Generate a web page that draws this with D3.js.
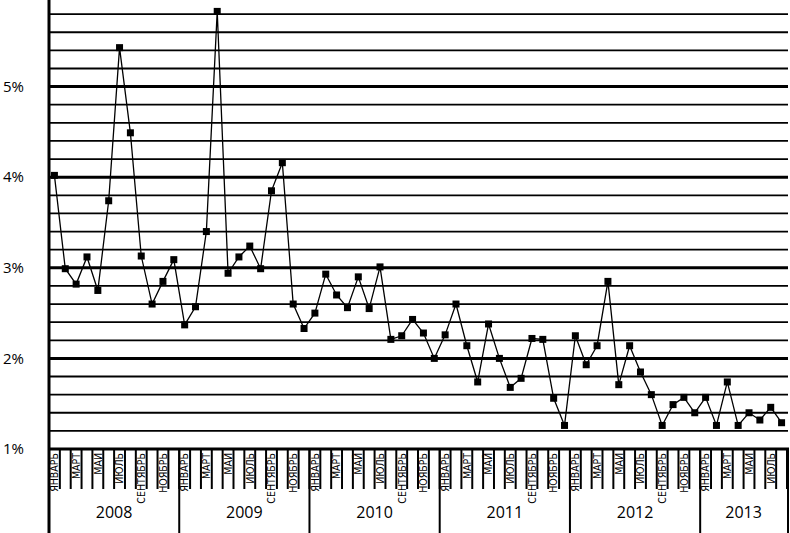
<!DOCTYPE html>
<html><head><meta charset="utf-8">
<script src="https://cdn.jsdelivr.net/npm/d3@7/dist/d3.min.js"></script>
<style>
body{margin:0;background:#fff}
svg{display:block}
</style></head>
<body><svg id="c" width="790" height="533"></svg>
<script>
const years = ["2008","2009","2010","2011","2012","2013"];
const monthLabels = ["ЯНВАРЬ","","МАРТ","","МАЙ","","ИЮЛЬ","","СЕНТЯБРЬ","","НОЯБРЬ",""];
const v2008 = [4.02, 2.99, 2.82, 3.12, 2.75, 3.74, 5.43, 4.49, 3.13, 2.60, 2.85, 3.09];
const v2009 = [2.37, 2.57, 3.40, 5.83, 2.94, 3.12, 3.24, 2.99, 3.85, 4.16, 2.60, 2.33];
const v2010 = [2.50, 2.93, 2.70, 2.56, 2.90, 2.55, 3.01, 2.21, 2.25, 2.43, 2.28, 2.00];
const v2011 = [2.26, 2.60, 2.14, 1.74, 2.38, 2.00, 1.68, 1.78, 2.22, 2.21, 1.56, 1.26];
const v2012 = [2.25, 1.93, 2.14, 2.85, 1.71, 2.14, 1.85, 1.60, 1.26, 1.49, 1.57, 1.40];
const v2013 = [1.57, 1.26, 1.74, 1.26, 1.40, 1.32, 1.46, 1.29];
const yTickValues = [1,1.2,1.4,1.6,1.8,2,2.2,2.4,2.6,2.8,3,3.2,3.4,3.6,3.8,4,4.2,4.4,4.6,4.8,5,5.2,5.4,5.6,5.8];
const yLabelValues = [1,2,3,4,5];

const series = [v2008,v2009,v2010,v2011,v2012,v2013];
const data = [];
series.forEach((arr, yi) => arr.forEach((v, mi) => data.push({key: years[yi]+"-"+mi, year: years[yi], m: mi, v})));

const svg = d3.select("#c");
const L = 49, R = 787, B = 449;
const x = d3.scaleBand().domain(data.map(d => d.key)).range([L, R]);
const y = d3.scaleLinear().domain([1, 5.8]).range([B, B - 4.8*90.6]);

// gridlines
const grid = svg.append("g");
grid.selectAll("line").data(yTickValues.filter(v => v > 1)).join("line")
  .attr("x1", L).attr("x2", R + 1)
  .attr("y1", d => y(d)).attr("y2", d => y(d))
  .attr("stroke", "#000")
  .attr("stroke-width", d => Math.abs(d - Math.round(d)) < 1e-6 ? 3 : 1.8);

// y labels
svg.append("g").selectAll("text").data(yLabelValues).join("text")
  .attr("x", 24).attr("y", d => y(d)).attr("dy", "0.35em")
  .attr("text-anchor", "end")
  .attr("font-family", "Open Sans, sans-serif").attr("font-size", 15)
  .text(d => d + "%");

// month ticks
const tickG = svg.append("g");
tickG.selectAll("line").data(data).join("line")
  .attr("x1", d => x(d.key) + x.bandwidth()).attr("x2", d => x(d.key) + x.bandwidth())
  .attr("y1", B).attr("y2", B + 40)
  .attr("stroke", "#000").attr("stroke-width", 2);

// month labels
svg.append("g").selectAll("text").data(data.filter(d => monthLabels[d.m])).join("text")
  .attr("transform", d => `translate(${x(d.key) + x.bandwidth()/2 + 3.8},${B + 4}) rotate(-90)`)
  .attr("text-anchor", "end")
  .attr("font-family", "DejaVu Sans Condensed, DejaVu Sans, sans-serif")
  .attr("font-size", 10.5)
  .text(d => monthLabels[d.m]);

// year dividers
const yearStarts = years.map(yr => data.find(d => d.year === yr));
svg.append("g").selectAll("line").data(yearStarts).join("line")
  .attr("x1", d => x(d.key)).attr("x2", d => x(d.key))
  .attr("y1", B).attr("y2", 533)
  .attr("stroke", "#000").attr("stroke-width", 2);
svg.append("line").attr("x1", R + 1).attr("x2", R + 1).attr("y1", B).attr("y2", 533)
  .attr("stroke", "#000").attr("stroke-width", 2);

// year labels
svg.append("g").selectAll("text").data(years).join("text")
  .attr("x", yr => {
    const ds = data.filter(d => d.year === yr);
    return (x(ds[0].key) + x(ds[ds.length-1].key) + x.bandwidth()) / 2;
  })
  .attr("y", 518).attr("text-anchor", "middle")
  .attr("font-family", "Open Sans, sans-serif").attr("font-size", 16)
  .text(d => d);

// axes
svg.append("line").attr("x1", L).attr("x2", L).attr("y1", 0).attr("y2", 533)
  .attr("stroke", "#000").attr("stroke-width", 3);
svg.append("line").attr("x1", L).attr("x2", R + 2).attr("y1", B).attr("y2", B)
  .attr("stroke", "#000").attr("stroke-width", 3);

// data line
const line = d3.line().x(d => x(d.key) + x.bandwidth()/2).y(d => y(d.v));
svg.append("path").datum(data).attr("d", line)
  .attr("fill", "none").attr("stroke", "#000").attr("stroke-width", 1.3);
svg.append("g").selectAll("rect").data(data).join("rect")
  .attr("x", d => x(d.key) + x.bandwidth()/2 - 3.5)
  .attr("y", d => y(d.v) - 3.5)
  .attr("width", 7).attr("height", 7).attr("fill", "#000");
</script></body></html>
